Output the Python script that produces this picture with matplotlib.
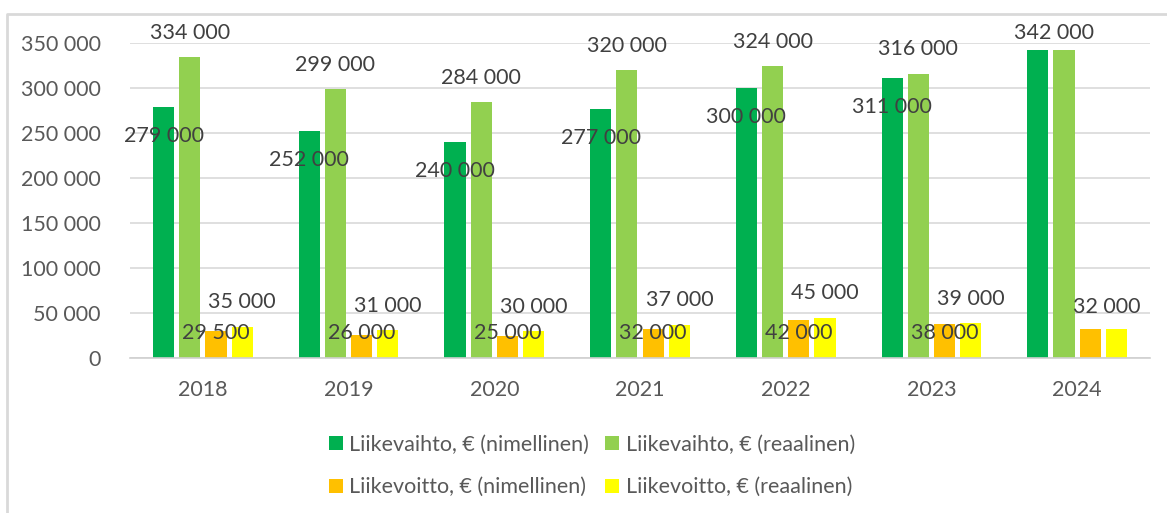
import matplotlib
matplotlib.use("Agg")
import matplotlib.pyplot as plt
from matplotlib.lines import Line2D
import numpy as np

years = ["2018", "2019", "2020", "2021", "2022", "2023", "2024"]
lv_nim = [279000, 252000, 240000, 277000, 300000, 311000, 342000]
lv_real = [334000, 299000, 284000, 320000, 324000, 316000, 342000]
lo_nim = [29500, 26000, 25000, 32000, 42000, 38000, 32000]
lo_real = [35000, 31000, 30000, 37000, 45000, 39000, 32000]
series_names = [
    "Liikevaihto, € (nimellinen)",
    "Liikevaihto, € (reaalinen)",
    "Liikevoitto, € (nimellinen)",
    "Liikevoitto, € (reaalinen)",
]
colors = ["#00B050", "#92D050", "#FFC000", "#FFFF00"]

plt.rcParams["font.family"] = ["Lato", "DejaVu Sans"]
FS = 15.5
TXT = "#404040"
TICK = "#595959"


def fmt(v):
    return f"{v:,}".replace(",", " ")


fig = plt.figure(figsize=(11.67, 5.13), dpi=100)
ax = fig.add_axes([130 / 1167, 1 - 358 / 513, 1020 / 1167, 315 / 513])

x = np.arange(len(years))
step = 0.18
width = 0.145
all_series = [lv_nim, lv_real, lo_nim, lo_real]
bars = []
for i, vals in enumerate(all_series):
    bars.append(ax.bar(x + (i - 1.5) * step, vals, width, color=colors[i],
                       label=series_names[i], zorder=2))

last = len(years) - 1
# data labels
for j in range(len(years)):
    if j != last:
        # nimellinen liikevaihto: inside, below the top
        ax.annotate(fmt(lv_nim[j]), (x[j] - 1.5 * step, lv_nim[j]), xytext=(0, -21),
                    textcoords="offset points", ha="center", va="center",
                    fontsize=FS, color=TXT, zorder=3)
        # nimellinen liikevoitto: near base line
        ax.annotate(fmt(lo_nim[j]), (x[j] + 0.5 * step, 27800), ha="center", va="center",
                    fontsize=FS, color=TXT, zorder=3)
        dx = 0
    else:
        dx = -7
    ax.annotate(fmt(lv_real[j]), (x[j] - 0.5 * step, lv_real[j]), xytext=(dx, 17.5 if j != last else 12.5),
                textcoords="offset points", ha="center", va="center",
                fontsize=FS, color=TXT, zorder=3)
    ax.annotate(fmt(lo_real[j]), (x[j] + 1.5 * step, lo_real[j]), xytext=(dx, 17.5 if j != last else 16),
                textcoords="offset points", ha="center", va="center",
                fontsize=FS, color=TXT, zorder=3)

ax.set_xlim(-0.5, len(years) - 0.5)
ax.set_ylim(0, 350000)
ax.set_yticks(np.arange(0, 350001, 50000))
ax.set_yticklabels([fmt(v) for v in range(0, 350001, 50000)])
ax.set_xticks(x)
ax.set_xticklabels(years)
ax.tick_params(axis="both", length=0, labelsize=FS, colors=TICK)
ax.tick_params(axis="y", pad=21)
ax.tick_params(axis="x", pad=16)
ax.grid(axis="y", color="#D9D9D9", linewidth=1.2, zorder=0)
for s in ["top", "right", "left"]:
    ax.spines[s].set_visible(False)
ax.spines["bottom"].set_color("#D0D0D0")
ax.spines["bottom"].set_linewidth(1.2)

# legend rows: liikevaihto on top, liikevoitto below (column-major order)
order = [0, 2, 1, 3]
fig.legend([bars[k] for k in order], [series_names[k] for k in order],
           loc="center", bbox_to_anchor=(0.507, 1 - 466 / 513), ncol=2,
           frameon=False, fontsize=FS, labelcolor=TICK, handlelength=0.65, handleheight=0.65,
           handletextpad=0.3, columnspacing=0.75, labelspacing=1.05)

# chart area border (top and left edges visible)
fig.add_artist(Line2D([7 / 1167, 7 / 1167, 1.0], [0, 1 - 14 / 513, 1 - 14 / 513],
                      transform=fig.transFigure, color="#D9D9D9", linewidth=2))

fig.savefig("out.png", dpi=100)
